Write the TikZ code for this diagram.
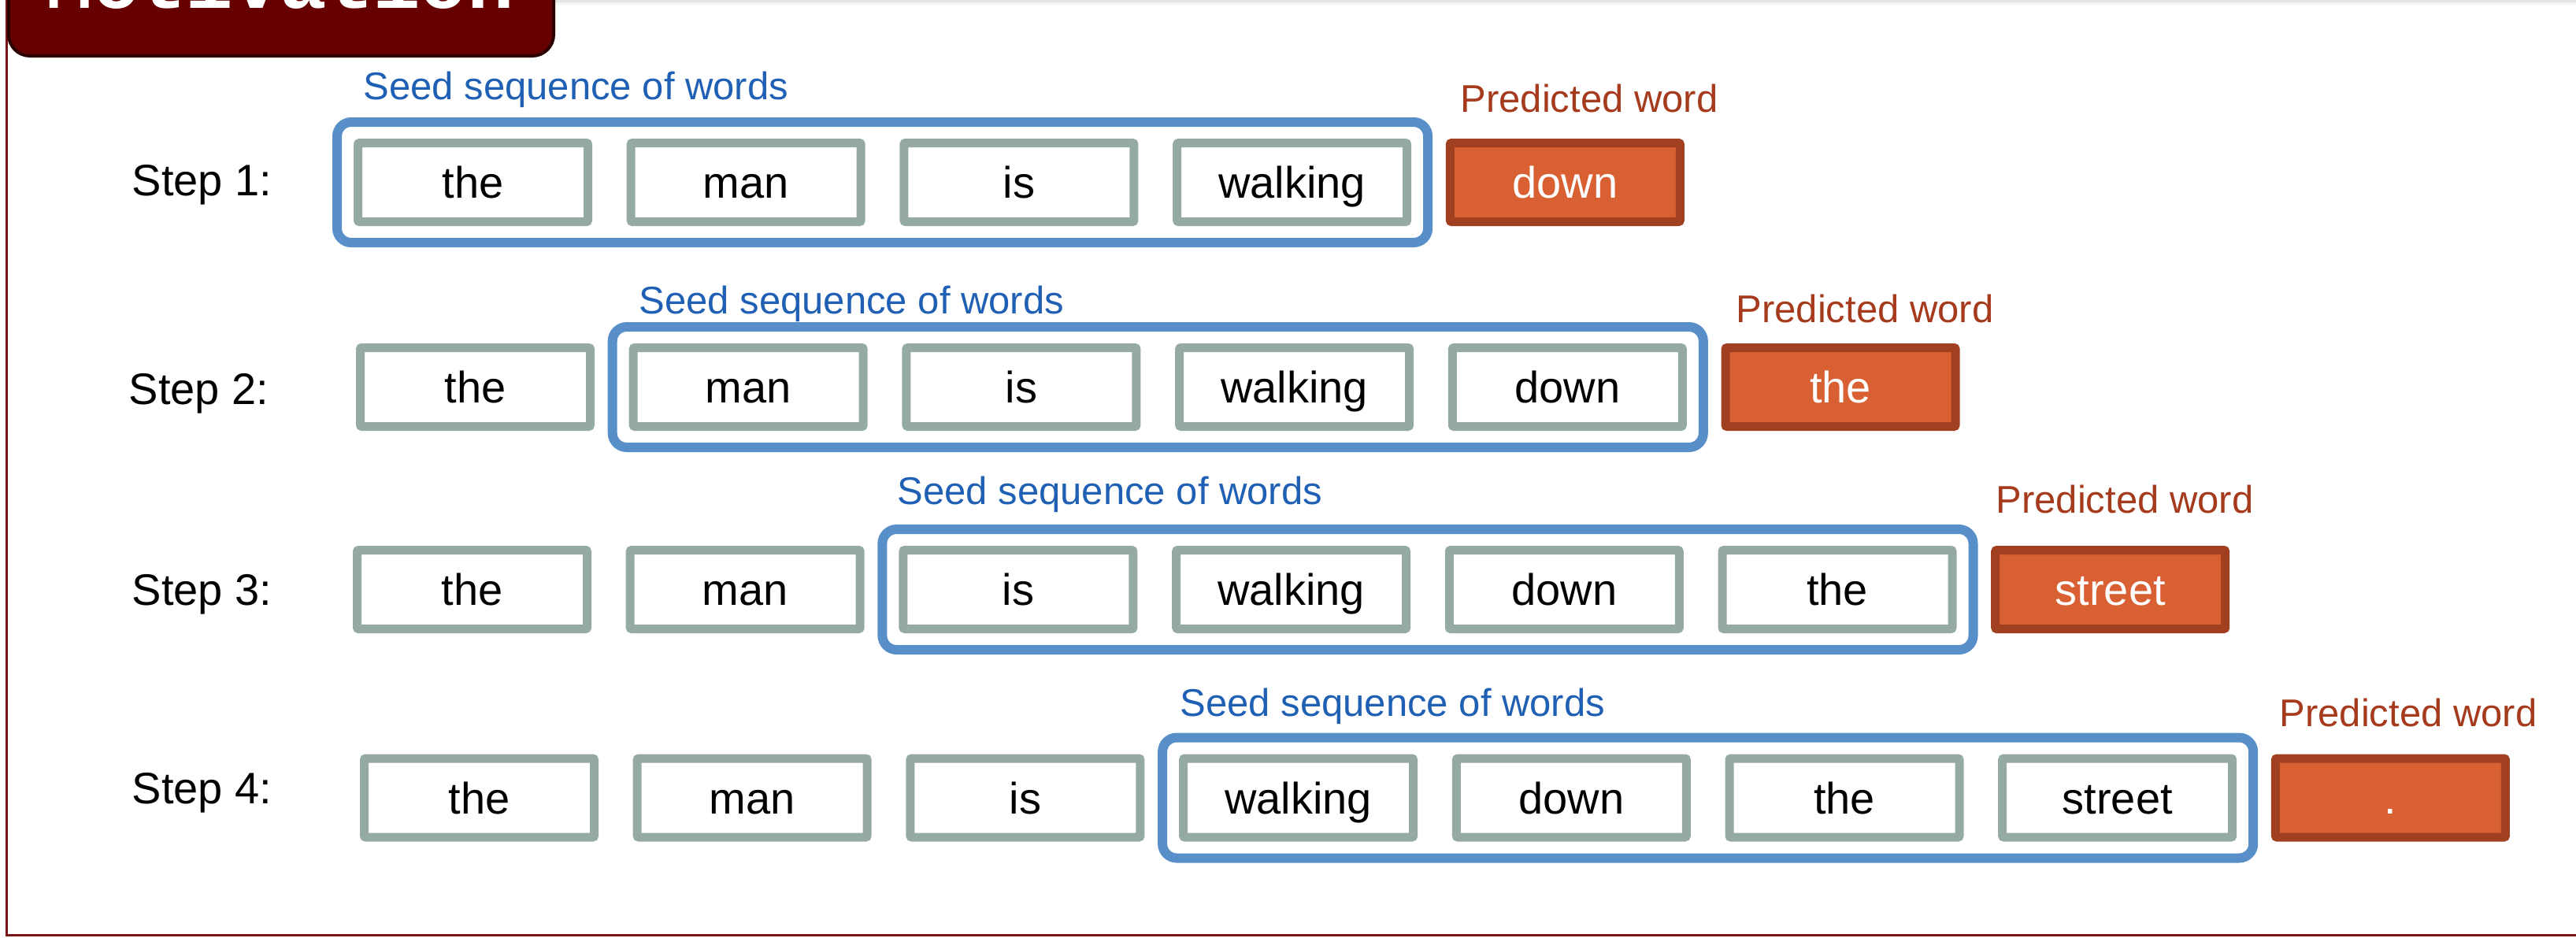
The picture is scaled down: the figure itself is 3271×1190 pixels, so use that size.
\documentclass[tikz,border=0pt]{standalone}
\usepackage{fontspec}
\setmainfont{Liberation Sans}
\newfontfamily\titlefont{Liberation Mono}
\usetikzlibrary{fit}

\definecolor{wordgray}{RGB}{150,170,165}
\definecolor{seedblue}{RGB}{88,143,200}
\definecolor{seedtext}{RGB}{32,96,180}
\definecolor{predfill}{RGB}{217,96,50}
\definecolor{predline}{RGB}{160,64,32}
\definecolor{predtext}{RGB}{165,58,28}
\definecolor{titlered}{RGB}{102,0,0}
\definecolor{titleedge}{RGB}{45,0,0}
\definecolor{framered}{RGB}{122,20,20}

\tikzset{every picture/.style={line width=0.75pt}}
\tikzset{
  wordbox/.style={draw=wordgray, line width=5.5pt, rounded corners=1pt, fill=white,
    minimum width=146pt, minimum height=50pt, inner sep=0pt,
    text height=20pt, text depth=0pt, font=\fontsize{28}{30}\selectfont},
  predbox/.style={wordbox, draw=predline, fill=predfill, text=white},
  seedframe/.style={draw=seedblue, line width=6pt, rounded corners=9pt, inner sep=10.5pt},
  seedlabel/.style={text=seedtext, anchor=base west, inner sep=0pt, font=\fontsize{24.5}{26}\selectfont},
  predlabel/.style={text=predtext, anchor=base, inner sep=0pt, font=\fontsize{24.5}{26}\selectfont},
  steplabel/.style={anchor=base west, inner sep=0pt, font=\fontsize{28}{30}\selectfont},
}

\begin{document}
\begin{tikzpicture}[x=0.5pt,y=0.5pt,yscale=-1,xscale=1]
        \useasboundingbox (0,0) rectangle (3271,1190);

        %Frame and title bar
        \fill [black!10] (703,0) rectangle (3271,3) ;
        \fill [black!5] (703,3) rectangle (3271,6) ;
        \draw [framered, line width=1.5pt] (8,0) -- (8,1187) -- (3271,1187) ;
        \draw [titleedge, fill=titlered, line width=2pt, rounded corners=13.5pt] (11,-60) rectangle (703,71) ;
        \node [anchor=base west, inner sep=0pt, text=white, font=\titlefont\bfseries\fontsize{49.5}{50}\selectfont] (title) at (58,10) {Motivation};

        % Step 1
        \node [steplabel] (step1) at (167,248) {Step 1:};
        \node [wordbox] (w11) at (600.5,231.5) {the};
        \node [wordbox] (w12) at (947.2,231.5) {man};
        \node [wordbox] (w13) at (1293.9,231.5) {is};
        \node [wordbox] (w14) at (1640.6,231.5) {walking};
        \node [predbox] (p1) at (1987.3,231.5) {down};
        \node [seedframe, fit=(w11)(w14)] (seed1) {};
        \node [seedlabel] (seedtxt1) at (461,126) {Seed sequence of words};
        \node [predlabel] (predtxt1) at (2018,142) {Predicted word};

        % Step 2
        \node [steplabel] (step2) at (163,513) {Step 2:};
        \node [wordbox] (w21) at (603.5,491.5) {the};
        \node [wordbox] (w22) at (950.2,491.5) {man};
        \node [wordbox] (w23) at (1296.9,491.5) {is};
        \node [wordbox] (w24) at (1643.6,491.5) {walking};
        \node [wordbox] (w25) at (1990.3,491.5) {down};
        \node [predbox] (p2) at (2337.0,491.5) {the};
        \node [seedframe, fit=(w22)(w25)] (seed2) {};
        \node [seedlabel] (seedtxt2) at (811,398) {Seed sequence of words};
        \node [predlabel] (predtxt2) at (2368,409) {Predicted word};

        % Step 3
        \node [steplabel] (step3) at (167,768) {Step 3:};
        \node [wordbox] (w31) at (599.5,748.5) {the};
        \node [wordbox] (w32) at (946.2,748.5) {man};
        \node [wordbox] (w33) at (1292.9,748.5) {is};
        \node [wordbox] (w34) at (1639.6,748.5) {walking};
        \node [wordbox] (w35) at (1986.3,748.5) {down};
        \node [wordbox] (w36) at (2333.0,748.5) {the};
        \node [predbox] (p3) at (2679.7,748.5) {street};
        \node [seedframe, fit=(w33)(w36)] (seed3) {};
        \node [seedlabel] (seedtxt3) at (1139,640) {Seed sequence of words};
        \node [predlabel] (predtxt3) at (2698,651) {Predicted word};

        % Step 4
        \node [steplabel] (step4) at (167,1020) {Step 4:};
        \node [wordbox] (w41) at (608.5,1013) {the};
        \node [wordbox] (w42) at (955.2,1013) {man};
        \node [wordbox] (w43) at (1301.9,1013) {is};
        \node [wordbox] (w44) at (1648.6,1013) {walking};
        \node [wordbox] (w45) at (1995.3,1013) {down};
        \node [wordbox] (w46) at (2342.0,1013) {the};
        \node [wordbox] (w47) at (2688.7,1013) {street};
        \node [predbox] (p4) at (3035.4,1013) {.};
        \node [seedframe, fit=(w44)(w47)] (seed4) {};
        \node [seedlabel] (seedtxt4) at (1498,909) {Seed sequence of words};
        \node [predlabel] (predtxt4) at (3058,922) {Predicted word};
\end{tikzpicture}
\end{document}
